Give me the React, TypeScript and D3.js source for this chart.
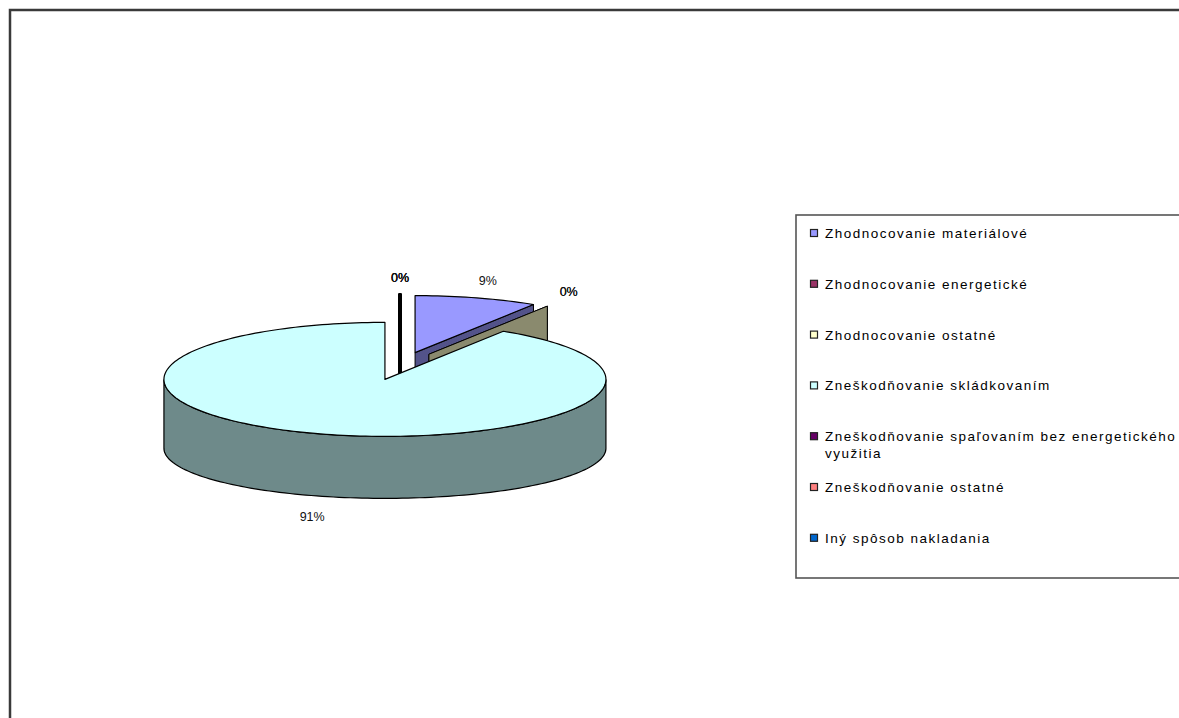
import React, { useMemo } from "react";
import * as d3 from "d3";

const categories = [
  "Zhodnocovanie materiálové",
  "Zhodnocovanie energetické",
  "Zhodnocovanie ostatné",
  "Zneškodňovanie skládkovaním",
  "Zneškodňovanie spaľovaním bez energetického využitia",
  "Zneškodňovanie ostatné",
  "Iný spôsob nakladania",
];
const shares = [9, 0, 0, 91, 0, 0, 0];
const colors = ["#9999FF", "#993366", "#FFFFCC", "#CCFFFF", "#660066", "#FF8080", "#0066CC"];

const W = 1179;
const H = 718;
const CX = 400;
const CY = 366;
const RX = 221;
const RY = 57;
const RYB = 50;
const DEPTH = 69;
const EXPLODE = 54;
const K = RY / RX;
const FONT = "'Liberation Sans', Arial, sans-serif";

function shade(c: string, f: number) {
  const col = d3.rgb(c);
  return d3.rgb(col.r * f, col.g * f, col.b * f).formatHex();
}

type Pt = [number, number];

function wrapText(text: string, maxW: number, size: number, ls: number): string[] {
  const cv = document.createElement("canvas");
  const ctx = cv.getContext("2d");
  const measure = (s: string) => {
    if (!ctx) return s.length * size * 0.55;
    ctx.font = `${size}px 'Liberation Sans', Arial`;
    return ctx.measureText(s).width + ls * s.length;
  };
  const words = text.split(" ");
  const lines: string[] = [];
  let cur = "";
  for (const w of words) {
    const t = cur ? cur + " " + w : w;
    if (measure(t) > maxW && cur) {
      lines.push(cur);
      cur = w;
    } else cur = t;
  }
  if (cur) lines.push(cur);
  return lines;
}

export default function App() {
  const arcs = useMemo(
    () =>
      d3
        .pie<number>()
        .sort(null)
        .value((d) => d)
        .startAngle(0)
        .endAngle(2 * Math.PI)(shares),
    []
  );

  const line = d3.line<Pt>();
  const fmt = (v: number) => d3.format(".0%")(v / d3.sum(shares));

  const slices = arcs.map((a, i) => {
    const mid = (a.startAngle + a.endAngle) / 2;
    const c: Pt = [CX + EXPLODE * Math.sin(mid), CY - EXPLODE * K * Math.cos(mid)];
    return { a, i, mid, c };
  });

  const order = slices
    .slice()
    .sort((p, q) => (Math.abs(p.c[1] - q.c[1]) < 0.5 ? p.i - q.i : p.c[1] - q.c[1]));

  const topPt = (c: Pt, ang: number): Pt => [c[0] + RX * Math.sin(ang), c[1] - RY * Math.cos(ang)];
  const botPt = (c: Pt, ang: number): Pt => [c[0] + RX * Math.sin(ang), c[1] + DEPTH - RYB * Math.cos(ang)];
  const sample = (s: number, e: number) => {
    const n = Math.max(2, Math.ceil(((e - s) / (2 * Math.PI)) * 240));
    return d3.range(n + 1).map((k) => s + ((e - s) * k) / n);
  };

  const legendY = d3.scaleLinear().domain([0, categories.length - 1]).range([233, 537.8]);

  return (
    <svg
      width={W}
      height={H}
      style={{ position: "absolute", left: 0, top: 0, background: "#fff" }}
      fontFamily={FONT}
    >
      <rect x={0} y={0} width={W} height={H} fill="#fff" />
      <rect x={10} y={10} width={1400} height={1000} fill="none" stroke="#3a3a3a" strokeWidth={2.5} />

      {order.map(({ a, i, c }) => {
        const s = a.startAngle;
        const e = a.endAngle;
        const col = colors[i];
        const side = shade(col, 0.54);
        const zero = e - s < 1e-9;
        const faces: JSX.Element[] = [];
        const radial = (ang: number, key: string) => {
          const pts: Pt[] = [[c[0], c[1]], topPt(c, ang), botPt(c, ang), [c[0], c[1] + DEPTH]];
          const degenerate = Math.abs(Math.sin(ang)) < 1e-6;
          faces.push(
            <path
              key={key}
              d={line(pts) + "Z"}
              fill={side}
              stroke="#000"
              strokeWidth={degenerate ? 4 : 1}
              strokeLinejoin="round"
            />
          );
        };
        if (zero) {
          radial(s, "z");
        } else {
          if (Math.sin(s) < -1e-6) radial(s, "rs");
          if (Math.sin(e) > 1e-6) radial(e, "re");
          const lo = Math.max(s, Math.PI / 2);
          const hi = Math.min(e, (3 * Math.PI) / 2);
          if (hi > lo) {
            const angs = sample(lo, hi);
            const pts: Pt[] = [
              ...angs.map((g) => topPt(c, g)),
              ...angs.slice().reverse().map((g) => botPt(c, g)),
            ];
            faces.push(
              <path key="wall" d={line(pts) + "Z"} fill={side} stroke="#000" strokeWidth={1.2} />
            );
          }
          const tp: Pt[] = [[c[0], c[1]], ...sample(s, e).map((g) => topPt(c, g))];
          faces.push(
            <path key="top" d={line(tp) + "Z"} fill={col} stroke="#000" strokeWidth={1.2} strokeLinejoin="round" />
          );
        }
        return <g key={i}>{faces}</g>;
      })}

      {slices.map(({ a, i, mid, c }) => {
        const cosm = Math.cos(mid);
        const lx = c[0] + RX * 1.18 * Math.sin(mid);
        const ly = c[1] - RY * 1.3 * cosm + DEPTH * Math.max(0, -cosm);
        return (
          <text
            key={"l" + i}
            x={lx}
            y={ly}
            textAnchor="middle"
            dominantBaseline="central"
            fontSize={12.5}
            fill="#111"
          >
            {fmt(a.data)}
          </text>
        );
      })}

      <rect x={796} y={215} width={500} height={363} fill="#fff" stroke="#555" strokeWidth={1.6} />
      {categories.map((name, i) => {
        const y = legendY(i);
        const lines = wrapText(name, 360, 13.5, 1.5);
        return (
          <g key={"lg" + i}>
            <rect x={810.5} y={y - 3.5} width={7} height={7} fill={colors[i]} stroke="#222" strokeWidth={1.2} />
            <text x={825} y={y} fontSize={13.5} letterSpacing={1.5} fill="#000" dominantBaseline="central">
              {lines.map((ln, j) => (
                <tspan key={j} x={825} dy={j === 0 ? 0 : 17}>
                  {ln}
                </tspan>
              ))}
            </text>
          </g>
        );
      })}
    </svg>
  );
}
